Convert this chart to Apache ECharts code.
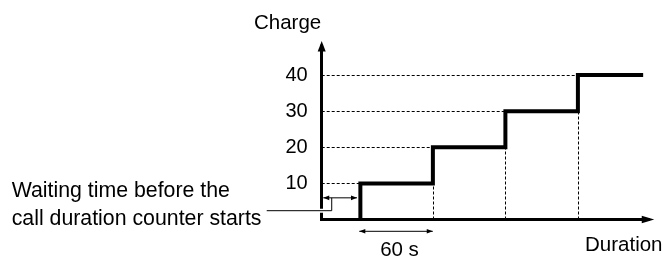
<!DOCTYPE html>
<html>
<head>
<meta charset="utf-8">
<script src="https://cdn.jsdelivr.net/npm/echarts@6/dist/echarts.min.js"></script>
<style>
  html, body { margin: 0; padding: 0; background: #fff; }
  #chart { width: 663px; height: 259px; }
</style>
</head>
<body>
<div id="chart"></div>
<script>
// tarif par paliers : la charge monte de 10 toutes les 60 s
var stepTimes = [32, 92, 152, 212];      // s, debut de chaque palier
var charges = [10, 20, 30, 40];          // niveau atteint a chaque palier
var endTime = 266;
var yTickLabels = [10, 20, 30, 40];

// annotations (en unites des axes)
var waitArrow = [[1.3, 6], [29.2, 6]];
var spanArrow = [[31.1, -3.27], [91.9, -3.27]];
var leader = [[-45.5, 2.44], [8.3, 2.44], [8.3, 6]];

var FONT = "'Liberation Sans', Arial, sans-serif";

(function () {
  var myChart = echarts.init(document.getElementById('chart'));

  // escalier
  var stair = [];
  stepTimes.forEach(function (t, i) {
    stair.push([t, i === 0 ? 0 : charges[i - 1]]);
    stair.push([t, charges[i]]);
  });
  stair.push([endTime, charges[charges.length - 1]]);

  // pointilles
  var guides = [];
  stepTimes.forEach(function (t, i) {
    guides.push([{ coord: [0, charges[i]] }, { coord: [t, charges[i]] }]);
    if (i > 0) {
      guides.push([{ coord: [t, 0] }, { coord: [t, charges[i - 1]] }]);
    }
  });

  var annots = [
    { pts: leader, gap: true },
    { pts: waitArrow, arrows: true },
    { pts: spanArrow, arrows: true }
  ];

  function arrowHead(tip, from) {
    var dx = tip[0] - from[0], dy = tip[1] - from[1];
    var len = Math.sqrt(dx * dx + dy * dy) || 1;
    var ux = dx / len, uy = dy / len;
    var L = 6, W = 2.3;
    return {
      type: 'polygon',
      shape: { points: [
        [tip[0], tip[1]],
        [tip[0] - ux * L - uy * W, tip[1] - uy * L + ux * W],
        [tip[0] - ux * L + uy * W, tip[1] - uy * L - ux * W]
      ] },
      style: { fill: '#000' }
    };
  }

  function renderAnnot(params, api) {
    var a = annots[params.dataIndex];
    var pts = a.pts.map(function (p) { return api.coord(p); });
    var children = [];
    if (a.gap) {
      children.push({ type: 'polyline', shape: { points: pts.slice(0, 2) }, style: { stroke: '#fff', lineWidth: 4, fill: null } });
    }
    children.push({ type: 'polyline', shape: { points: pts }, style: { stroke: '#000', lineWidth: 1, fill: null } });
    if (a.arrows) {
      children.push(arrowHead(pts[0], pts[1]));
      children.push(arrowHead(pts[1], pts[0]));
    }
    return { type: 'group', children: children };
  }

  var option = {
    animation: false,
    grid: { left: 321.7, right: 15, top: 46.2, bottom: 39.5 },
    xAxis: {
      type: 'value',
      min: 0,
      max: 270,
      axisLine: {
        show: true,
        symbol: ['none', 'triangle'],
        symbolSize: [7.5, 12.5],
        lineStyle: { color: '#000', width: 3, cap: 'square' }
      },
      axisTick: { show: false },
      axisLabel: { show: false },
      splitLine: { show: false }
    },
    yAxis: {
      type: 'value',
      min: 0,
      max: 48,
      interval: 10,
      axisLine: {
        show: true,
        symbol: ['none', 'triangle'],
        symbolSize: [8, 10.5],
        lineStyle: { color: '#000', width: 3, cap: 'square' }
      },
      axisTick: { show: false },
      splitLine: { show: false },
      axisLabel: {
        margin: 14,
        color: '#000',
        fontSize: 20,
        fontFamily: FONT,
        verticalAlign: 'middle',
        padding: [0, 0, 5, 0],
        formatter: function (v) {
          return yTickLabels.indexOf(v) >= 0 ? String(v) : '';
        }
      }
    },
    graphic: [
      { type: 'text', x: 254, y: 23.2, style: { text: 'Charge', fill: '#000', fontSize: 20.5, fontFamily: FONT, textVerticalAlign: 'middle', verticalAlign: 'middle' } },
      { type: 'text', x: 585, y: 245.5, style: { text: 'Duration', fill: '#000', fontSize: 20.5, fontFamily: FONT, textVerticalAlign: 'middle', verticalAlign: 'middle' } },
      { type: 'text', x: 11.7, y: 191, style: { text: 'Waiting time before the', fill: '#000', fontSize: 21.3, fontFamily: FONT, textVerticalAlign: 'middle', verticalAlign: 'middle' } },
      { type: 'text', x: 11.7, y: 219.2, style: { text: 'call duration counter starts', fill: '#000', fontSize: 21.3, fontFamily: FONT, textVerticalAlign: 'middle', verticalAlign: 'middle' } },
      { type: 'text', x: 399.5, y: 250, style: { text: '60 s', fill: '#000', fontSize: 20.5, fontFamily: FONT, textAlign: 'center', align: 'center', textVerticalAlign: 'middle', verticalAlign: 'middle' } }
    ],
    series: [
      {
        name: 'guides',
        type: 'line',
        data: [],
        silent: true,
        markLine: {
          silent: true,
          symbol: ['none', 'none'],
          label: { show: false },
          lineStyle: { color: '#000', width: 1, type: [3, 2] },
          emphasis: { disabled: true },
          data: guides
        }
      },
      {
        name: 'charge',
        type: 'line',
        data: stair,
        symbol: 'none',
        silent: true,
        z: 4,
        lineStyle: { color: '#000', width: 4, join: 'miter', cap: 'butt' }
      },
      {
        name: 'annotations',
        type: 'custom',
        clip: false,
        silent: true,
        z: 5,
        data: annots.map(function (a) { return a.pts[0]; }),
        renderItem: renderAnnot
      }
    ]
  };

  myChart.setOption(option);
})();
</script>
</body>
</html>
